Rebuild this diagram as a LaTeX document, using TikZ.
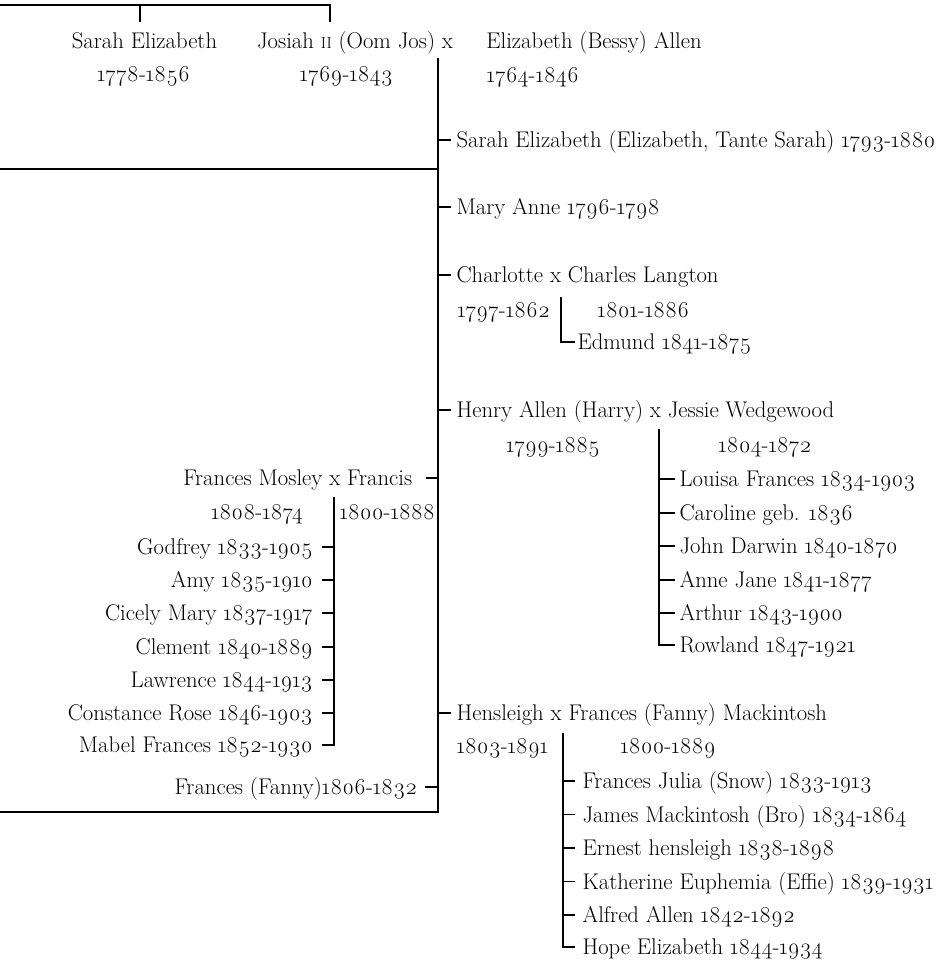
\documentclass[tikz,border=0pt]{standalone}
\usepackage{fontspec}
\setmainfont{Latin Modern Roman}[Numbers=OldStyle]
\newcommand{\fakesc}[1]{{\fontsize{16}{16}\selectfont #1}}
\begin{document}
\begin{tikzpicture}[x=1pt,y=-1pt,line width=1.1pt,
  txt/.style={inner sep=0pt,font=\fontsize{22.7}{27}\selectfont},
  row/.style={txt,text height=16pt,text depth=1pt},
  kidR/.style={row,anchor=west,inner xsep=#1},
  kidL/.style={row,anchor=east,inner xsep=#1},
  yrs/.style={txt,anchor=base west},
  yrsC/.style={txt,anchor=base}]
\useasboundingbox (0,0) rectangle (950,964);
% top generation
\coordinate (barL) at (0,5);
\coordinate (barM) at (140,5);
\coordinate (barR) at (330,5);
\coordinate (tickS) at (140,22);
\coordinate (tickJ) at (330,22);
\draw (barL) -- (barR) -- (tickJ);
\draw (barM) -- (tickS);
\node[yrsC] (sarahT) at (144.5,48) {Sarah Elizabeth};
\node[yrsC] (sarahTd) at (143.5,81) {1778-1856};
\node[yrsC] (josiah) at (355,48) {Josiah \fakesc{II} (Oom Jos) x};
\node[yrsC] (bessy) at (594,48) {Elizabeth (Bessy) Allen};
\node[yrsC] (josiahd) at (346.3,81) {1769-1843};
\node[yrsC] (bessyd) at (532.8,82) {1764-1846};
% trunk
\coordinate (trunkTop) at (438,58);
\coordinate (trunkBot) at (438,812);
\coordinate (midL) at (0,169);
\coordinate (botL) at (0,812);
\draw (trunkTop) -- (trunkBot) -- (botL);
\draw (midL) -- (midL -| trunkTop);
% children on the right
\node[kidR=5pt] (c1) at (451,140) {Sarah Elizabeth (Elizabeth, Tante Sarah) 1793-1880};
\node[kidR=5pt] (c2) at (451,207) {Mary Anne 1796-1798};
\node[kidR=5pt] (c3) at (451,275) {Charlotte x Charles Langton};
\node[kidR=5pt] (c4) at (451,410) {Henry Allen (Harry) x Jessie Wedgewood};
\node[kidR=5pt] (c5) at (451,713) {Hensleigh x Frances (Fanny) Mackintosh};
\foreach \n in {c1,c2,c3,c4,c5}{\draw (\n.west -| trunkTop) -- (\n.west);}
% Charlotte
\node[yrs] (c3a) at (456.7,317) {1797-1862};
\node[yrsC] (c3b) at (643.3,317) {1801-1886};
\coordinate (cTop) at (561,297);
\node[kidR=2pt] (ed) at (575,342) {Edmund 1841-1875};
\draw (cTop) -- (cTop |- ed.west) -- (ed.west);
% Henry
\node[yrsC] (c4a) at (553,452) {1799-1885};
\node[yrsC] (c4b) at (765,452) {1804-1872};
\coordinate (hTop) at (659,429);
\node[kidR=4pt] (hk1) at (675,479) {Louisa Frances 1834-1903};
\node[kidR=4pt] (hk2) at (675,513) {Caroline geb. 1836};
\node[kidR=4pt] (hk3) at (675,546) {John Darwin 1840-1870};
\node[kidR=4pt] (hk4) at (675,580) {Anne Jane 1841-1877};
\node[kidR=4pt] (hk5) at (675,613) {Arthur 1843-1900};
\node[kidR=4pt] (hk6) at (675,645) {Rowland 1847-1921};
\draw (hTop) -- (hTop |- hk6.west) -- (hk6.west);
\foreach \n in {hk1,hk2,hk3,hk4,hk5}{\draw (\n.west -| hTop) -- (\n.west);}
% Hensleigh
\node[yrs] (c5a) at (456,753) {1803-1891};
\node[yrsC] (c5b) at (668,753) {1800-1889};
\coordinate (sTop) at (563,733);
\node[kidR=7pt] (sk1) at (575,781) {Frances Julia (Snow) 1833-1913};
\node[kidR=7pt] (sk2) at (575,814.5) {James Mackintosh (Bro) 1834-1864};
\node[kidR=7pt] (sk3) at (575,848) {Ernest hensleigh 1838-1898};
\node[kidR=7pt] (sk4) at (575,881.5) {Katherine Euphemia (Effie) 1839-1931};
\node[kidR=7pt] (sk5) at (575,915) {Alfred Allen 1842-1892};
\node[kidR=7pt] (sk6) at (575,947) {Hope Elizabeth 1844-1934};
\draw (sTop) -- (sTop |- sk6.west) -- (sk6.west);
\foreach \n in {sk1,sk2,sk3,sk4,sk5}{\draw (\n.west -| sTop) -- (\n.west);}
% Francis (left)
\node[kidL=13.3pt] (fm) at (426,478) {Frances Mosley x Francis};
\draw (fm.east) -- (fm.east -| trunkTop);
\node[yrsC] (fma) at (257,519) {1808-1874};
\node[yrsC] (fmb) at (387.3,519) {1800-1888};
\coordinate (mTop) at (334,497);
\node[kidL=8.4pt] (mk1) at (321.7,547) {Godfrey 1833-1905};
\node[kidL=8.4pt] (mk2) at (321.7,580) {Amy 1835-1910};
\node[kidL=8.4pt] (mk3) at (321.7,613) {Cicely Mary 1837-1917};
\node[kidL=8.4pt] (mk4) at (321.7,647) {Clement 1840-1889};
\node[kidL=8.4pt] (mk5) at (321.7,680) {Lawrence 1844-1913};
\node[kidL=8.4pt] (mk6) at (321.7,713) {Constance Rose 1846-1903};
\node[kidL=8.4pt] (mk7) at (321.7,745) {Mabel Frances 1852-1930};
\draw (mTop) -- (mTop |- mk7.east) -- (mk7.east);
\foreach \n in {mk1,mk2,mk3,mk4,mk5,mk6}{\draw (\n.east) -- (\n.east -| mTop);}
% Fanny
\node[kidL=7.3pt] (fy) at (425,787) {Frances (Fanny)1806-1832};
\draw (fy.east) -- (fy.east -| trunkTop);
\end{tikzpicture}
\end{document}
